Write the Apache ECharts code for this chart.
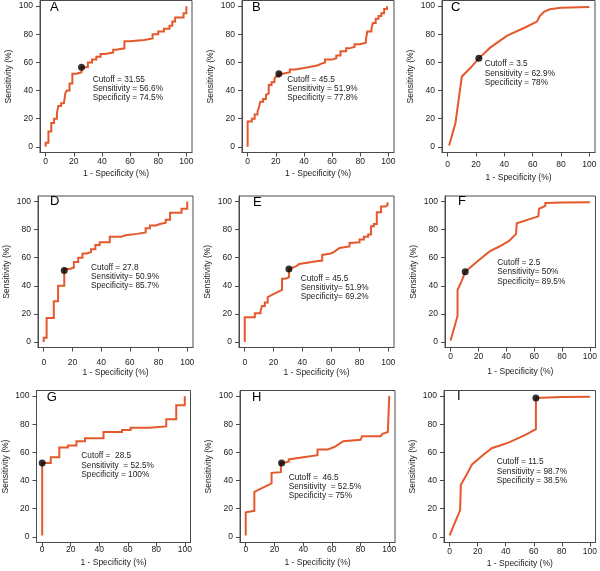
<!DOCTYPE html>
<html>
<head>
<meta charset="utf-8">
<script src="https://cdn.jsdelivr.net/npm/echarts@6/dist/echarts.min.js"></script>
<style>html,body{margin:0;padding:0;background:#fff}#c{width:600px;height:571px}</style>
</head>
<body>
<div id="c"></div>
<script>
// ---------- data ----------
const panelLetters = ['A','B','C','D','E','F','G','H','I'];
const tickValues = [0, 20, 40, 60, 80, 100];
const xAxisName = '1 - Specificity (%)';
const yAxisName = 'Sensitivity (%)';

const curveA = [[0,0],[0,3],[2,3],[2,11],[4,11],[4,17],[6,17],[6,20],[8,20],[8,24],[9,24],[9,29],[11,29],[11,31],[13,31],[13,32],[14,32],[14,38],[15,38],[15,40],[17,40],[17,45],[19,45],[19,52],[22,52],[22,53],[25.5,53],[25.5,56.6],[30,56.6],[30,60],[33,60],[33,62],[36,62],[36,64],[39,64],[39,66],[42,66],[42,67],[48,67],[48,69],[50,69],[50,70],[56,70],[56,75],[60,75],[60,76],[70,76],[70,77],[76,77],[76,80],[80,80],[80,82],[84,82],[84,84],[88,84],[88,86],[90,86],[90,89],[92,89],[92,92],[98,92],[98,95],[100,95],[100,100]];
const curveB = [[0,0],[0,18],[3,18],[3,20],[5,20],[5,23],[7,23],[7,25],[8,25],[8,28],[9,28],[9,32],[11,32],[11,34],[13,34],[13,37],[14,37],[14,38],[15,38],[15,44],[17,44],[17,46],[19,46],[19,48],[20,48],[20,50],[22.2,50],[22.2,51.9],[25,52],[25,53],[30,53],[30,55],[34,55],[34,56],[40,56],[40,57],[45,57],[45,58],[50,58],[50,59],[52,59],[52,60],[55,60],[55,62],[60,62],[60,63],[63,63],[63,65],[66,65],[66,68],[70,68],[70,70],[72,70],[72,71],[76,71],[76,73],[80,73],[80,74],[84,74],[84,76],[85,76],[85,82],[88,82],[88,84],[89,84],[89,88],[91,88],[91,91],[93,91],[93,93],[95,93],[95,95],[97,95],[97,98],[99,98],[99,100]];
const curveC = [[1,1],[3,8],[5.5,17],[10,50],[16,56],[22,62.9],[30,70.5],[42,79],[55,85],[63,89],[65,93],[68,96],[72,97.8],[80,98.8],[100,99.3]];
const curveD = [[0,0],[0,3],[2,3],[2,17],[7,17],[7,29],[10,29],[10,40],[14.3,40],[14.3,52],[18,52],[18,53],[21,53],[21,57],[24,57],[24,60],[27,60],[27,63],[30,63],[30,64],[33,64],[33,66],[36,66],[36,69],[39,69],[39,71],[46,71],[46,75],[54,75],[54,76],[57,76],[57,77],[65,77],[65,78],[71,78],[71,81],[74,81],[74,83],[78,83],[78,84],[81,84],[81,85],[85,85],[85,87],[88,87],[88,92],[96,92],[96,95],[100,95],[100,100]];
const curveE = [[0,0],[0,17.5],[7,17.5],[7,20.5],[11,20.5],[11,22],[12,22],[12,25.5],[14,25.5],[14,28],[16,28],[16,32],[20,34],[26,37],[26,45],[28,45],[28,46],[30.8,46],[30.8,51.9],[36,54],[38,55.5],[50,57.5],[54,58],[54,62],[60,63],[62,64],[66,67],[73,68],[73,70.5],[80,71],[80,73],[83,73],[83,75],[86,75],[86,76.5],[88,76.5],[88,82.5],[90,82.5],[90,84],[92,84],[92,92.5],[95,92.5],[95,96.5],[98,96.5],[98,97.5],[99.5,97.5],[99.5,99.5]];
const curveF = [[0,1],[5,18.5],[5,37],[8,43.5],[10.5,50],[20,58],[28,64.5],[35,68],[42,72],[47,77],[47.5,84.5],[63,89.5],[63.5,95],[66,96],[68,97],[68,99],[80,99.3],[100,99.5]];
const curveG = [[0,1],[0,52.5],[6,52.5],[6,56.5],[12,56.5],[12,63.5],[18,63.5],[18,65],[24,65],[24,68],[30,68],[30,70],[43,70],[43,74.5],[56,74.5],[56,76],[62,76],[62,77.5],[75,77.5],[75,78.5],[87,78.5],[87,83.5],[94,83.5],[94,93.5],[100,93.5],[100,100]];
const curveH = [[0,1],[0,17.5],[6,18.5],[6,32],[18,38],[18,45.5],[24.5,46],[24.5,52.5],[28,53],[30,53.5],[30,55],[40,56.5],[50,58],[50,62],[57,62],[62,64],[68,68],[80,69],[81,71.5],[94,71.5],[95,73],[99,74.5],[100,75],[100,100]];
const curveI = [[0,1],[7.5,19],[8,37],[12,44],[16,51.5],[23,57.5],[30,63],[42,67],[54,72.5],[61.5,76.5],[61.5,98.7],[70,99],[80,99.3],[100,99.5]];
const curves = [curveA, curveB, curveC, curveD, curveE, curveF, curveG, curveH, curveI];

// optimal cut-off points [1 - specificity, sensitivity]
const cutoffPoints = [[25.5,56.6],[22.2,51.9],[22,62.9],[14.3,50.9],[30.8,51.9],[10.5,50],[0,52.5],[25,52.5],[61.5,98.7]];

const annotations = [
  ['Cutoff = 31.55','Sensitivity = 56.6%','Specificity = 74.5%'],
  ['Cutoff = 45.5','Sensitivity = 51.9%','Specificity = 77.8%'],
  ['Cutoff = 3.5','Sensitivity = 62.9%','Specificity = 78%'],
  ['Cutoff = 27.8','Sensitivity= 50.9%','Specificity= 85.7%'],
  ['Cutoff = 45.5','Sensitivity= 51.9%','Specificity= 69.2%'],
  ['Cutoff = 2.5','Sensitivity= 50%','Specificity= 89.5%'],
  ['Cutoff =  28.5','Sensitivity  = 52.5%','Specificity = 100%'],
  ['Cutoff =  46.5','Sensitivity  = 52.5%','Specificity = 75%'],
  ['Cutoff = 11.5','Sensitivity = 98.7%','Specificity = 38.5%']
];

// ---------- layout (pixels) ----------
const layout = [
  {l:40,  r:192,   t:0.5,   b:152.5, xm:5,  xg:17,  letter:[50,8],     text:[92.7,79.3]},
  {l:242, r:394,   t:0.5,   b:152.5, xm:5,  xg:17,  letter:[252,7.5],  text:[287.3,79.3]},
  {l:442, r:595,   t:0.5,   b:152.5, xm:8,  xg:21,  letter:[451,8],    text:[484.7,64]},
  {l:38,  r:193,   t:196,   b:347.5, xm:10.5,xg:19.5,letter:[50,201.7], text:[91,267.3]},
  {l:239, r:394,   t:196,   b:347.5, xm:10.5,xg:19.5,letter:[253,202.5],text:[300.7,278.3]},
  {l:445, r:598,   t:196,   b:347.5, xm:5,  xg:20,  letter:[458,202.3],text:[497.3,262.7]},
  {l:35.5,r:190.5, t:390.5, b:542.5, xm:3,  xg:15.5,letter:[46.7,398.3],text:[81.3,456]},
  {l:240, r:395,   t:390.5, b:542.5, xm:3,  xg:15.5,letter:[252,398.3],text:[288.7,477.3]},
  {l:444, r:598,   t:390.5, b:542.5, xm:5,  xg:17,  letter:[457,397], text:[496.7,462]}
];

const FONT = "'Liberation Sans', Arial, Helvetica, sans-serif";
const LINE_COLOR = '#E4592B';
const FRAME = '#4a4a4a';
const TEXTC = '#222';
const LH = 9.4;

const grids = [], xAxes = [], yAxes = [], series = [], graphics = [];
layout.forEach((p, i) => {
  grids.push({left: p.l, top: p.t, width: p.r - p.l, height: p.b - p.t,
    show: true, borderColor: FRAME, borderWidth: 1, backgroundColor: 'transparent', containLabel: false});
  const common = {
    gridIndex: i, type: 'value', min: -4, max: 104,
    axisLine: {show: true, onZero: false, lineStyle: {color: FRAME, width: 1}},
    axisTick: {show: true, length: 4, inside: false, customValues: tickValues, lineStyle: {color: FRAME, width: 1}},
    splitLine: {show: false},
    nameLocation: 'middle',
    nameTextStyle: {fontFamily: FONT, fontSize: 8.5, color: TEXTC}
  };
  xAxes.push(Object.assign({}, common, {
    name: xAxisName, nameGap: p.xg,
    axisLabel: {customValues: tickValues, margin: p.xm, fontFamily: FONT, fontSize: 8.5, color: TEXTC}
  }));
  yAxes.push(Object.assign({}, common, {
    name: yAxisName, nameGap: 26.5,
    axisLabel: {customValues: tickValues, margin: 7, fontFamily: FONT, fontSize: 8.5, color: TEXTC}
  }));
  series.push({
    type: 'line', xAxisIndex: i, yAxisIndex: i, data: curves[i],
    showSymbol: false, symbol: 'none', animation: false, clip: false,
    lineStyle: {color: LINE_COLOR, width: 2, join: 'miter', cap: 'butt'}, z: 2
  });
  series.push({
    type: 'scatter', xAxisIndex: i, yAxisIndex: i, data: [cutoffPoints[i]],
    symbol: 'circle', symbolSize: 7, itemStyle: {color: '#000'}, animation: false, z: 3
  });
  graphics.push({
    type: 'text', left: p.letter[0], top: p.letter[1] - 7, z: 10,
    style: {text: panelLetters[i], fontFamily: FONT, fontSize: 13, fill: '#000'}
  });
  graphics.push({
    type: 'text', left: p.text[0], top: p.text[1] - LH / 2, z: 10,
    style: {text: annotations[i].join('\n'), fontFamily: FONT, fontSize: 8.3, lineHeight: LH, fill: TEXTC}
  });
});

const chart = echarts.init(document.getElementById('c'), null, {renderer: 'canvas'});
chart.setOption({
  animation: false,
  backgroundColor: '#fff',
  grid: grids, xAxis: xAxes, yAxis: yAxes, series: series, graphic: graphics
});
</script>
</body>
</html>
